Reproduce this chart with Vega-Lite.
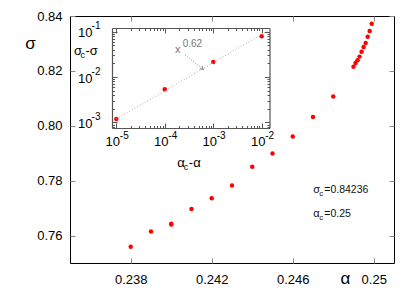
{
  "$schema": "https://vega.github.io/schema/vega-lite/v6.json",
  "width": 324,
  "height": 247,
  "autosize": {"type": "none"},
  "padding": {"left": 70, "top": 16, "right": 21, "bottom": 28},
  "background": "white",
  "config": {
    "font": "Liberation Sans",
    "view": {"stroke": "#000", "strokeWidth": 1},
    "axis": {
      "labelFont": "Liberation Sans",
      "titleFont": "Liberation Sans",
      "grid": false,
      "labelColor": "#000",
      "titleColor": "#000",
      "titleFontWeight": "normal",
      "labelFlush": false,
      "labelOverlap": false,
      "labelBound": false,
      "domain": false,
      "tickColor": "#888"
    },
    "text": {"font": "Liberation Sans"}
  },
  "datasets": {
    "main": [
      {"alpha": 0.238, "sigma": 0.7559},
      {"alpha": 0.239, "sigma": 0.7615},
      {"alpha": 0.240, "sigma": 0.7640},
      {"alpha": 0.240, "sigma": 0.7643},
      {"alpha": 0.241, "sigma": 0.7697},
      {"alpha": 0.242, "sigma": 0.7736},
      {"alpha": 0.243, "sigma": 0.7782},
      {"alpha": 0.244, "sigma": 0.7851},
      {"alpha": 0.245, "sigma": 0.7899},
      {"alpha": 0.246, "sigma": 0.7961},
      {"alpha": 0.247, "sigma": 0.8032},
      {"alpha": 0.248, "sigma": 0.8107},
      {"alpha": 0.2490, "sigma": 0.8215},
      {"alpha": 0.2491, "sigma": 0.8229},
      {"alpha": 0.2492, "sigma": 0.8239},
      {"alpha": 0.2493, "sigma": 0.8252},
      {"alpha": 0.2494, "sigma": 0.8270},
      {"alpha": 0.2495, "sigma": 0.8287},
      {"alpha": 0.2496, "sigma": 0.8302},
      {"alpha": 0.2497, "sigma": 0.8324},
      {"alpha": 0.2498, "sigma": 0.8345},
      {"alpha": 0.2499, "sigma": 0.8372}
    ],
    "inset": [
      {"da": 0.00001, "ds": 0.00119},
      {"da": 0.0001, "ds": 0.00537},
      {"da": 0.001, "ds": 0.0214},
      {"da": 0.01, "ds": 0.0785}
    ],
    "fit": [
      {"da": 0.00001, "ds": 0.00119},
      {"da": 0.0145, "ds": 0.109}
    ],
    "arrow": [
      {"da": 0.000261, "ds": 0.0305},
      {"da": 0.000624, "ds": 0.01476}
    ],
    "arrowhead": [
      {"da": 0.000624, "ds": 0.01476}
    ],
    "expo": [
      {"da": 0.0001626, "ds": 0.03455, "base": "x", "exp": "0.62"}
    ],
    "ann": [
      {"alpha": 0.247015, "sigma": 0.77539, "sym": "σ", "sub": "c", "rest": "=0.84236"},
      {"alpha": 0.247015, "sigma": 0.76664, "sym": "α", "sub": "c", "rest": "=0.25"}
    ],
    "titles": [
      {"alpha": 0.235198, "sigma": 0.82579, "sym": "σ", "sub": "c", "rest": "-σ"},
      {"alpha": 0.2403, "sigma": 0.78508, "sym": "α", "sub": "c", "rest": "-α"}
    ]
  },
  "layer": [
    {
      "layer": [
        {
          "data": {"name": "main"},
          "mark": {"type": "circle", "color": "#ff0000", "size": 20, "opacity": 1},
          "encoding": {
            "x": {
              "field": "alpha", "type": "quantitative",
              "scale": {"domain": [0.235, 0.251], "nice": false, "zero": false},
              "axis": {
                "orient": "bottom", "values": [0.238, 0.242, 0.246, 0.25], "format": ".3~f",
                "tickSize": -5, "labelFontSize": 13, "labelPadding": 15,
                "title": "α", "titleFontSize": 17, "titleX": 275, "titleY": 15,
                "titleAlign": "center", "titleBaseline": "middle"
              }
            },
            "y": {
              "field": "sigma", "type": "quantitative",
              "scale": {"domain": [0.75, 0.84], "nice": false, "zero": false},
              "axis": {
                "orient": "left", "values": [0.76, 0.78, 0.8, 0.82, 0.84], "format": ".2f",
                "tickSize": -5, "labelFontSize": 13, "labelPadding": 13,
                "title": "σ", "titleAngle": 0, "titleX": -40, "titleY": 27, "titleFontSize": 17,
                "titleAlign": "center", "titleBaseline": "middle"
              }
            }
          }
        },
        {
          "data": {"name": "main"},
          "mark": {"type": "circle", "opacity": 0},
          "encoding": {
            "x": {
              "field": "alpha", "type": "quantitative",
              "scale": {"domain": [0.235, 0.251], "nice": false, "zero": false},
              "axis": {"orient": "top", "values": [0.238, 0.242, 0.246, 0.25], "tickSize": -5, "labels": false, "title": null}
            },
            "y": {
              "field": "sigma", "type": "quantitative",
              "scale": {"domain": [0.75, 0.84], "nice": false, "zero": false},
              "axis": {"orient": "right", "values": [0.76, 0.78, 0.8, 0.82, 0.84], "tickSize": -5, "labels": false, "title": null}
            }
          }
        },
        {
          "data": {"name": "ann"},
          "encoding": {
            "x": {"field": "alpha", "type": "quantitative", "scale": {"domain": [0.235, 0.251], "nice": false, "zero": false}, "axis": null},
            "y": {"field": "sigma", "type": "quantitative", "scale": {"domain": [0.75, 0.84], "nice": false, "zero": false}, "axis": null}
          },
          "layer": [
            {"mark": {"type": "text", "align": "left", "baseline": "alphabetic", "fontSize": 11, "color": "#111"}, "encoding": {"text": {"field": "sym"}}},
            {"mark": {"type": "text", "align": "left", "baseline": "alphabetic", "fontSize": 8, "dx": 6, "dy": 3, "color": "#111"}, "encoding": {"text": {"field": "sub"}}},
            {"mark": {"type": "text", "align": "left", "baseline": "alphabetic", "fontSize": 10.5, "dx": 11, "color": "#111"}, "encoding": {"text": {"field": "rest"}}}
          ]
        },
        {
          "data": {"name": "titles"},
          "encoding": {
            "x": {"field": "alpha", "type": "quantitative", "scale": {"domain": [0.235, 0.251], "nice": false, "zero": false}, "axis": null},
            "y": {"field": "sigma", "type": "quantitative", "scale": {"domain": [0.75, 0.84], "nice": false, "zero": false}, "axis": null}
          },
          "layer": [
            {"mark": {"type": "text", "align": "left", "baseline": "alphabetic", "fontSize": 13, "color": "#000"}, "encoding": {"text": {"field": "sym"}}},
            {"mark": {"type": "text", "align": "left", "baseline": "alphabetic", "fontSize": 9, "dx": 6.5, "dy": 3, "color": "#000"}, "encoding": {"text": {"field": "sub"}}},
            {"mark": {"type": "text", "align": "left", "baseline": "alphabetic", "fontSize": 13, "dx": 11.5, "color": "#000"}, "encoding": {"text": {"field": "rest"}}}
          ]
        }
      ],
      "resolve": {"axis": {"x": "independent", "y": "independent"}}
    },
    {
      "layer": [
        {
          "data": {"name": "inset"},
          "mark": {"type": "circle", "color": "#ff0000", "size": 20, "opacity": 1},
          "encoding": {
            "x": {
              "field": "da", "type": "quantitative",
              "scale": {"type": "log", "domain": [0.00000815, 0.01449], "range": [42, 199.5], "nice": false},
              "axis": {
                "orient": "bottom", "offset": -135,
                "values": [0.00001, 0.00002, 0.00003, 0.00004, 0.00005, 0.00006, 0.00007, 0.00008, 0.00009, 0.0001, 0.0002, 0.0003, 0.0004, 0.0005, 0.0006, 0.0007, 0.0008, 0.0009, 0.001, 0.002, 0.003, 0.004, 0.005, 0.006, 0.007, 0.008, 0.009, 0.01],
                "domain": true, "domainColor": "#555", "domainWidth": 1.2, "tickColor": "#555",
                "tickSize": {"condition": {"test": "abs(log(datum.value)/LN10-round(log(datum.value)/LN10))<0.01", "value": -5}, "value": -2.5},
                "labelExpr": "abs(log(datum.value)/LN10-round(log(datum.value)/LN10))<0.01 ? '10' : ''",
                "labelFontSize": 13, "labelPadding": 12, "labelOffset": -4, "labelAlign": "center",
                "title": null
              }
            },
            "y": {
              "field": "ds", "type": "quantitative",
              "scale": {"type": "log", "domain": [0.000757, 0.1194], "range": [112, 12], "nice": false},
              "axis": {
                "orient": "left", "offset": -42,
                "values": [0.0008, 0.0009, 0.001, 0.002, 0.003, 0.004, 0.005, 0.006, 0.007, 0.008, 0.009, 0.01, 0.02, 0.03, 0.04, 0.05, 0.06, 0.07, 0.08, 0.09, 0.1],
                "domain": true, "domainColor": "#555", "domainWidth": 1.2, "tickColor": "#555",
                "tickSize": {"condition": {"test": "abs(log(datum.value)/LN10-round(log(datum.value)/LN10))<0.01", "value": -5}, "value": -2.5},
                "labelExpr": "abs(log(datum.value)/LN10-round(log(datum.value)/LN10))<0.01 ? '10' : ''",
                "labelFontSize": 13, "labelPadding": 25, "labelOffset": 1, "labelAlign": "right", "labelBaseline": "middle",
                "title": null
              }
            }
          }
        },
        {
          "data": {"name": "fit"},
          "mark": {"type": "line", "color": "#aaa", "strokeWidth": 1, "strokeDash": [1, 2]},
          "encoding": {
            "x": {
              "field": "da", "type": "quantitative",
              "scale": {"type": "log", "domain": [0.00000815, 0.01449], "range": [42, 199.5], "nice": false},
              "axis": {
                "orient": "top", "offset": -12,
                "values": [0.00001, 0.00002, 0.00003, 0.00004, 0.00005, 0.00006, 0.00007, 0.00008, 0.00009, 0.0001, 0.0002, 0.0003, 0.0004, 0.0005, 0.0006, 0.0007, 0.0008, 0.0009, 0.001, 0.002, 0.003, 0.004, 0.005, 0.006, 0.007, 0.008, 0.009, 0.01],
                "domain": true, "domainColor": "#555", "domainWidth": 1.2, "tickColor": "#555",
                "tickSize": {"condition": {"test": "abs(log(datum.value)/LN10-round(log(datum.value)/LN10))<0.01", "value": -5}, "value": -2.5},
                "labels": false, "title": null
              }
            },
            "y": {
              "field": "ds", "type": "quantitative",
              "scale": {"type": "log", "domain": [0.000757, 0.1194], "range": [112, 12], "nice": false},
              "axis": {
                "orient": "right", "offset": -124.5,
                "values": [0.0008, 0.0009, 0.001, 0.002, 0.003, 0.004, 0.005, 0.006, 0.007, 0.008, 0.009, 0.01, 0.02, 0.03, 0.04, 0.05, 0.06, 0.07, 0.08, 0.09, 0.1],
                "domain": true, "domainColor": "#555", "domainWidth": 1.2, "tickColor": "#555",
                "tickSize": {"condition": {"test": "abs(log(datum.value)/LN10-round(log(datum.value)/LN10))<0.01", "value": -5}, "value": -2.5},
                "labels": false, "title": null
              }
            }
          }
        },
        {
          "data": {"name": "arrow"},
          "mark": {"type": "line", "color": "#888", "strokeWidth": 1, "strokeDash": [1, 1.5]},
          "encoding": {
            "x": {
              "field": "da", "type": "quantitative",
              "scale": {"type": "log", "domain": [0.00000815, 0.01449], "range": [42, 199.5], "nice": false},
              "axis": {
                "orient": "bottom", "offset": -135, "values": [0.00001, 0.0001, 0.001, 0.01],
                "ticks": false, "domain": false,
                "labelExpr": "'-' + (-round(log(datum.value)/LN10))",
                "labelFontSize": 10, "labelPadding": 2, "labelOffset": 7.5, "labelAlign": "center",
                "title": null
              }
            },
            "y": {
              "field": "ds", "type": "quantitative",
              "scale": {"type": "log", "domain": [0.000757, 0.1194], "range": [112, 12], "nice": false},
              "axis": {
                "orient": "left", "offset": -42, "values": [0.001, 0.01, 0.1],
                "ticks": false, "domain": false,
                "labelExpr": "'-' + (-round(log(datum.value)/LN10))",
                "labelFontSize": 10, "labelPadding": 12, "labelOffset": -6, "labelAlign": "right", "labelBaseline": "middle",
                "title": null
              }
            }
          }
        },
        {
          "data": {"name": "arrowhead"},
          "mark": {"type": "point", "shape": "M-1,-0.6L0,0L-1,0.6", "angle": 38, "size": 40, "filled": false, "stroke": "#888", "strokeWidth": 1, "opacity": 1},
          "encoding": {
            "x": {"field": "da", "type": "quantitative", "scale": {"type": "log", "domain": [0.00000815, 0.01449], "range": [42, 199.5], "nice": false}, "axis": null},
            "y": {"field": "ds", "type": "quantitative", "scale": {"type": "log", "domain": [0.000757, 0.1194], "range": [112, 12], "nice": false}, "axis": null}
          }
        },
        {
          "data": {"name": "expo"},
          "encoding": {
            "x": {"field": "da", "type": "quantitative", "scale": {"type": "log", "domain": [0.00000815, 0.01449], "range": [42, 199.5], "nice": false}, "axis": null},
            "y": {"field": "ds", "type": "quantitative", "scale": {"type": "log", "domain": [0.000757, 0.1194], "range": [112, 12], "nice": false}, "axis": null}
          },
          "layer": [
            {"mark": {"type": "text", "align": "left", "baseline": "alphabetic", "fontSize": 11, "color": "#777"}, "encoding": {"text": {"field": "base"}}},
            {"mark": {"type": "text", "align": "left", "baseline": "alphabetic", "fontSize": 10, "dx": 7.7, "dy": -6, "color": "#777"}, "encoding": {"text": {"field": "exp"}}}
          ]
        }
      ],
      "resolve": {"axis": {"x": "independent", "y": "independent"}}
    }
  ],
  "resolve": {
    "scale": {"x": "independent", "y": "independent"},
    "axis": {"x": "independent", "y": "independent"}
  }
}
